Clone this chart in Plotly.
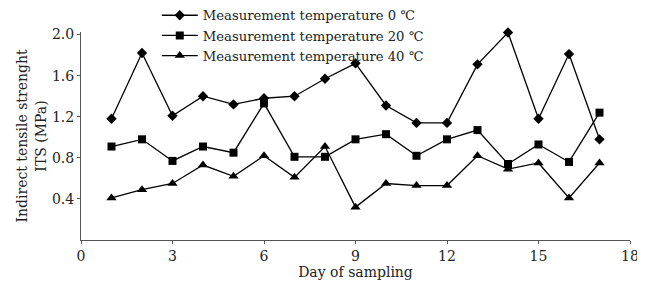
import plotly.graph_objects as go

days = list(range(1, 18))
t0 = [1.18, 1.82, 1.21, 1.40, 1.32, 1.38, 1.40, 1.57, 1.72, 1.31, 1.14, 1.14, 1.71, 2.02, 1.18, 1.81, 0.98]
t20 = [0.91, 0.98, 0.77, 0.91, 0.85, 1.33, 0.81, 0.81, 0.98, 1.03, 0.82, 0.98, 1.07, 0.74, 0.93, 0.76, 1.24]
t40 = [0.41, 0.49, 0.55, 0.73, 0.62, 0.82, 0.61, 0.91, 0.32, 0.55, 0.53, 0.53, 0.82, 0.69, 0.75, 0.41, 0.75]
names = ["Measurement temperature 0 ℃", "Measurement temperature 20 ℃", "Measurement temperature 40 ℃"]
xticks = [0, 3, 6, 9, 12, 15, 18]
yticks = [0.4, 0.8, 1.2, 1.6, 2.0]

FONT = "DejaVu Serif"
fig = go.Figure()
for vals, name, sym, sz in [(t0, names[0], "diamond", 8), (t20, names[1], "square", 8), (t40, names[2], "triangle-up", 9)]:
    fig.add_trace(go.Scatter(x=days, y=vals, name=name, mode="lines+markers",
                             line=dict(color="black", width=1.3),
                             marker=dict(symbol=sym, size=sz, color="black"),
                             cliponaxis=False))

fig.update_layout(
    width=645, height=286,
    margin=dict(l=73, r=23, t=24, b=54, autoexpand=False),
    paper_bgcolor="white", plot_bgcolor="white",
    font=dict(family=FONT, size=14, color="#222"),
    legend=dict(x=0.138, y=1.153, xanchor="left", yanchor="top", bgcolor="rgba(0,0,0,0)",
                font=dict(size=13.2), tracegroupgap=0, itemwidth=36),
    xaxis=dict(range=[0, 18], tickvals=xticks, ticktext=[str(v) for v in xticks],
               showgrid=False, zeroline=False, showline=True, linecolor="#555", linewidth=1,
               ticks="outside", ticklen=3, tickcolor="#555", automargin=False,
               title=dict(text="Day of sampling", font=dict(size=14), standoff=2)),
    yaxis=dict(range=[0, 2.025], tickvals=yticks, ticktext=["0.4", "0.8", "1.2", "1.6", "2.0"],
               showgrid=False, zeroline=False, showline=True, linecolor="#555", linewidth=1,
               ticks="outside", ticklen=3, tickcolor="#555", automargin=False,
               title=dict(text="Indirect tensile strenght<br>ITS (MPa)", font=dict(size=14), standoff=2)),
)
fig.write_html("out.html")
